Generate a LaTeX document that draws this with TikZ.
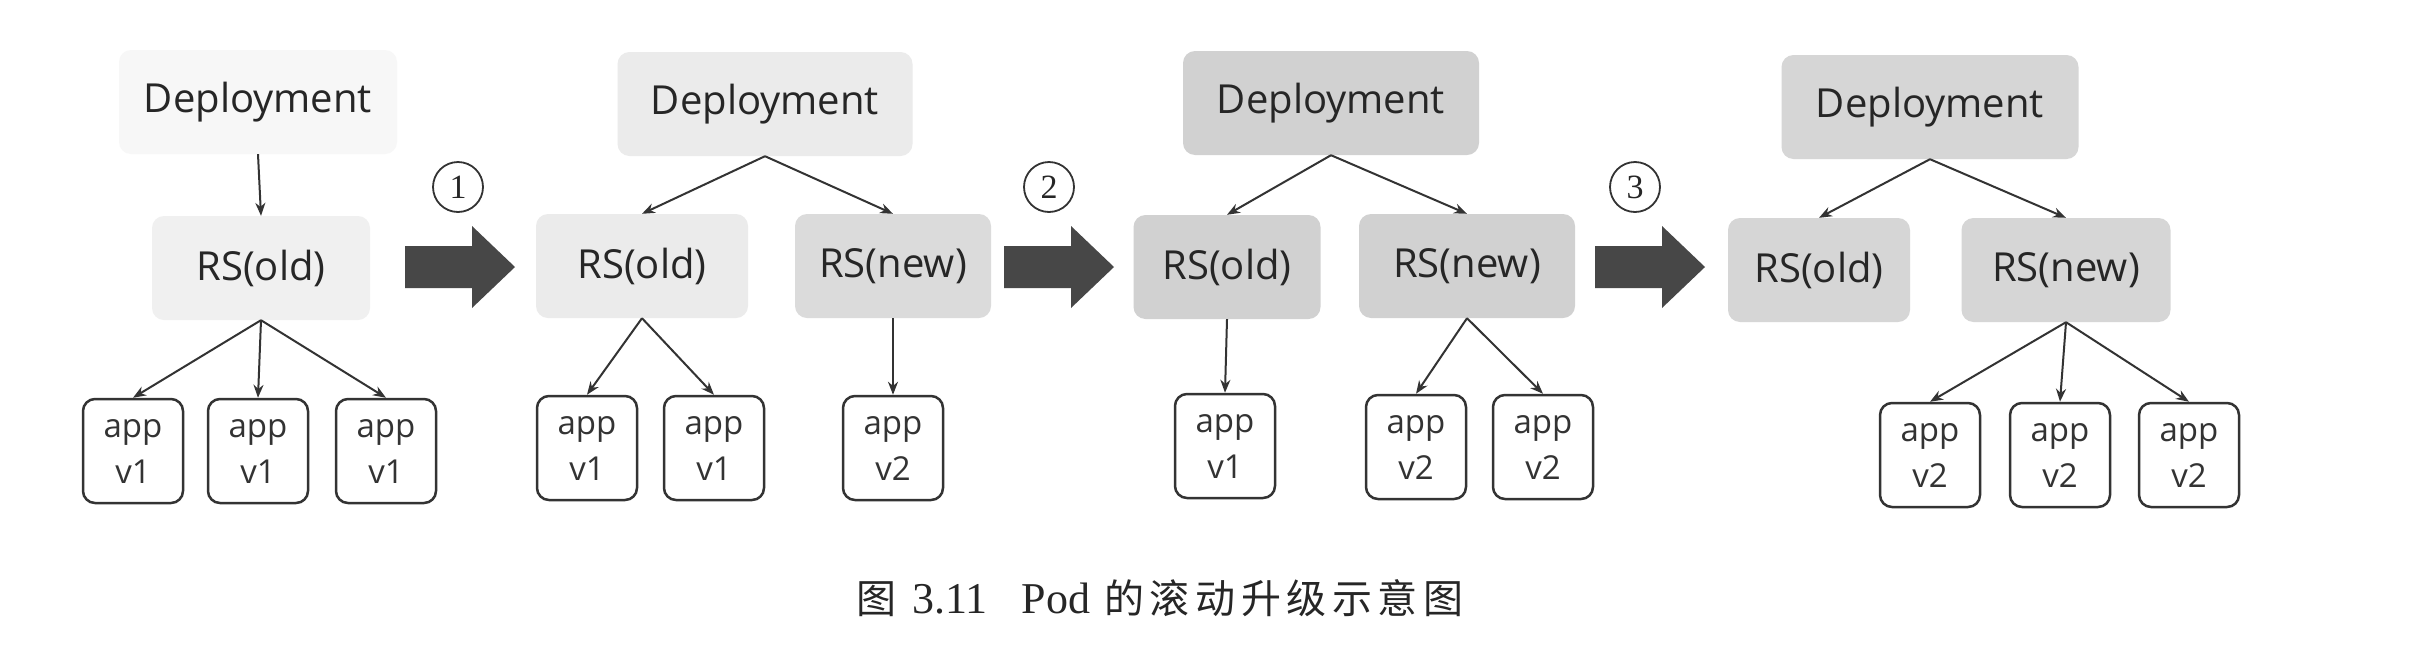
\documentclass[tikz,border=0pt]{standalone}
\usepackage{fontspec}
\setmainfont{Liberation Serif}
\newfontfamily\diag{Open Sans}
\newfontfamily\cjk[LetterSpace=14]{Noto Sans CJK SC}
\usetikzlibrary{arrows.meta}
\begin{document}
\begin{tikzpicture}[x=1pt,y=-1pt,
  rsbox/.style={rounded corners=12pt, minimum height=104pt, inner sep=0pt,
    font=\diag\fontsize{40}{48}\selectfont, text=black!85},
  appbox/.style={draw=black!80, fill=white, line width=2.5pt, rounded corners=12pt,
    minimum width=100pt, minimum height=104pt, inner sep=0pt, align=center,
    font=\diag\fontsize{33}{46}\selectfont, text=black!80},
  conn/.style={draw=black!80, line width=2pt, -{Stealth[length=13pt,width=10pt]}},
  circnum/.style={circle, draw=black!80, line width=1.8pt, minimum size=50pt,
    inner sep=0pt, font=\fontsize{34}{34}\selectfont, text=black!85},
  bigarrow/.pic={\fill[black!72] (0,-21) -- (67,-21) -- (67,-41) -- (110,0)
    -- (67,41) -- (67,21) -- (0,21) -- cycle;}
]
\fill[white] (0,0) rectangle (2412,654);
\useasboundingbox (0,0) rectangle (2412,654);

% ---------- panel 1
\node[rsbox, fill=black!3, minimum width=278pt] (dep1) at (258,102) {Deployment};
\node[rsbox, fill=black!6, minimum width=218pt] (rso1) at (261,268) {RS(old)};
\node[appbox] (a11) at (133,451) {app\\v1};
\node[appbox] (a12) at (258,451) {app\\v1};
\node[appbox] (a13) at (386,451) {app\\v1};
\draw[conn] (dep1.south) -- (rso1.north);
\draw[conn] (rso1.south) -- (a11.north);
\draw[conn] (rso1.south) -- (a12.north);
\draw[conn] (rso1.south) -- (a13.north);

\node[circnum] (c1) at (458,187) {1};
\pic at (405,267) {bigarrow};

% ---------- panel 2
\node[rsbox, fill=black!8, minimum width=295pt] (dep2) at (765,104) {Deployment};
\node[rsbox, fill=black!8, minimum width=212pt] (rso2) at (642,266) {RS(old)};
\node[rsbox, fill=black!14, minimum width=196pt] (rsn2) at (893,266) {RS(new)};
\node[appbox] (a21) at (587,448) {app\\v1};
\node[appbox] (a22) at (714,448) {app\\v1};
\node[appbox] (a23) at (893,448) {app\\v2};
\draw[conn] (dep2.south) -- (rso2.north);
\draw[conn] (dep2.south) -- (rsn2.north);
\draw[conn] (rso2.south) -- (a21.north);
\draw[conn] (rso2.south) -- (a22.north);
\draw[conn] (rsn2.south) -- (a23.north);

\node[circnum] (c2) at (1049,187) {2};
\pic at (1004,267) {bigarrow};

% ---------- panel 3
\node[rsbox, fill=black!18, minimum width=296pt] (dep3) at (1331,103) {Deployment};
\node[rsbox, fill=black!18, minimum width=187pt] (rso3) at (1227,267) {RS(old)};
\node[rsbox, fill=black!18, minimum width=216pt] (rsn3) at (1467,266) {RS(new)};
\node[appbox] (a31) at (1225,446) {app\\v1};
\node[appbox] (a32) at (1416,447) {app\\v2};
\node[appbox] (a33) at (1543,447) {app\\v2};
\draw[conn] (dep3.south) -- (rso3.north);
\draw[conn] (dep3.south) -- (rsn3.north);
\draw[conn] (rso3.south) -- (a31.north);
\draw[conn] (rsn3.south) -- (a32.north);
\draw[conn] (rsn3.south) -- (a33.north);

\node[circnum] (c3) at (1635,187) {3};
\pic at (1595,267) {bigarrow};

% ---------- panel 4
\node[rsbox, fill=black!16, minimum width=297pt] (dep4) at (1930,107) {Deployment};
\node[rsbox, fill=black!16, minimum width=182pt] (rso4) at (1819,270) {RS(old)};
\node[rsbox, fill=black!16, minimum width=209pt] (rsn4) at (2066,270) {RS(new)};
\node[appbox] (a41) at (1930,455) {app\\v2};
\node[appbox] (a42) at (2060,455) {app\\v2};
\node[appbox] (a43) at (2189,455) {app\\v2};
\draw[conn] (dep4.south) -- (rso4.north);
\draw[conn] (dep4.south) -- (rsn4.north);
\draw[conn] (rsn4.south) -- (a41.north);
\draw[conn] (rsn4.south) -- (a42.north);
\draw[conn] (rsn4.south) -- (a43.north);

% ---------- caption
\node[font=\fontsize{44}{48}\selectfont, text=black!85, inner sep=0pt] (cap) at (1160,598)
  {{\cjk\fontsize{40}{44}\selectfont 图}\hspace{16pt}3.11\hspace{34pt}Pod\hspace{14pt}{\cjk\fontsize{40}{44}\selectfont 的滚动升级示意图}};
\end{tikzpicture}
\end{document}
